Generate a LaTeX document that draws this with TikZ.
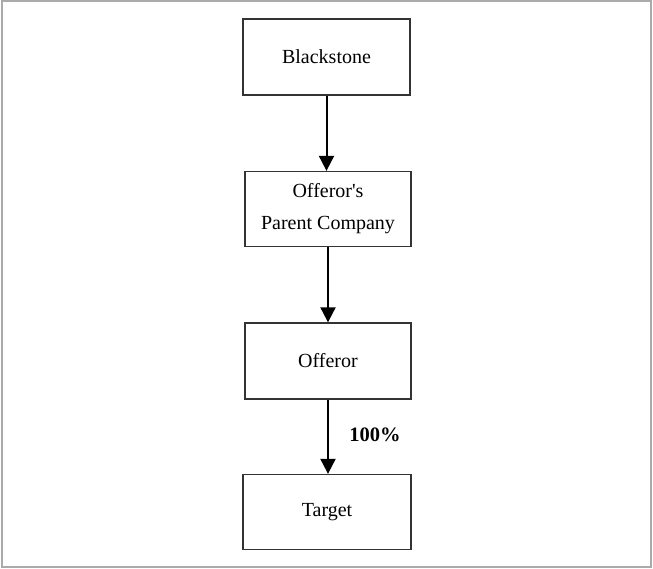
\documentclass[tikz,border=0pt]{standalone}
\usepackage{fontspec}
\setmainfont{Liberation Serif}
\usetikzlibrary{arrows.meta}
\definecolor{framegray}{HTML}{AAAAAA}
\definecolor{boxline}{HTML}{333333}
\tikzset{
  orgbox/.style={draw=boxline, line width=1.3pt, rectangle, inner sep=0pt, align=center,
    font=\fontsize{20}{32}\selectfont},
  ownarrow/.style={line width=2pt, -{Triangle[width=15pt,length=15pt]}},
  pctlabel/.style={font=\fontsize{20.5}{24}\selectfont\bfseries}
}
\begin{document}
\begin{tikzpicture}[x=1pt,y=-1pt]
  \useasboundingbox (0,0) rectangle (653,569);
  \draw[framegray, line width=2pt] (2,1) rectangle (651,567);
  \node[orgbox, minimum width=167pt, minimum height=76pt] (b) at (326.5,57) {Blackstone};
  \node[orgbox, minimum width=166pt, minimum height=75pt] (p) at (328,209) {Offeror\textquotesingle s\\Parent Company};
  \node[orgbox, minimum width=166pt, minimum height=76pt] (o) at (328,361) {Offeror};
  \node[orgbox, minimum width=168pt, minimum height=75pt] (t) at (327,512) {Target};
  \draw[ownarrow] (b.south) -- (b.south |- p.north);
  \draw[ownarrow] (p.south) -- (p.south |- o.north);
  \draw[ownarrow] (o.south) -- (o.south |- t.north);
  \node[pctlabel] (pct) at (375,435) {100\%};
\end{tikzpicture}
\end{document}
